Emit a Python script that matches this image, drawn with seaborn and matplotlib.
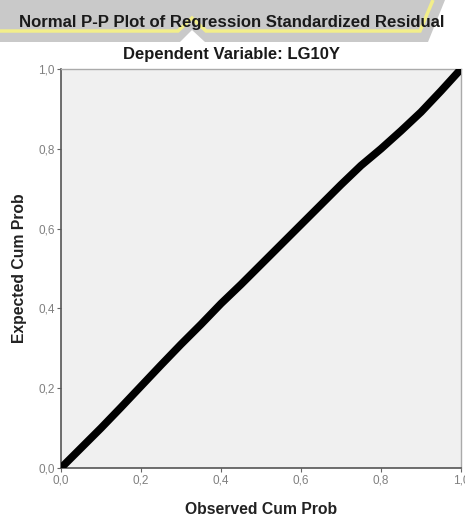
import numpy as np
import pandas as pd
import seaborn as sns
import matplotlib.pyplot as plt
from matplotlib.patches import Polygon

# P-P plot points
observed = [0.00, 0.05, 0.10, 0.15, 0.20, 0.25, 0.30, 0.35, 0.40, 0.45, 0.50,
            0.55, 0.60, 0.65, 0.70, 0.75, 0.80, 0.85, 0.90, 0.95, 1.00]
expected = [0.00, 0.05, 0.10, 0.152, 0.205, 0.258, 0.31, 0.36, 0.412, 0.46, 0.51,
            0.56, 0.61, 0.66, 0.71, 0.758, 0.80, 0.845, 0.892, 0.945, 1.00]
ticks = [0.0, 0.2, 0.4, 0.6, 0.8, 1.0]
tick_labels = ["0,0", "0,2", "0,4", "0,6", "0,8", "1,0"]

data = pd.DataFrame({"Observed": observed, "Expected": expected})

sns.set_style("white")
plt.rcParams["font.family"] = ["Liberation Sans", "DejaVu Sans"]

fig = plt.figure(figsize=(4.65, 5.16), dpi=100)

# watermark band behind the titles
W, H = 465.0, 516.0
def px(pts):
    return [(x / W, 1 - y / H) for x, y in pts]
band = Polygon(px([(0, 0), (445, 0), (428, 42), (205, 42), (192, 30), (180, 42), (0, 42)]),
               closed=True, transform=fig.transFigure, facecolor="#c9c9c9",
               edgecolor="none", zorder=0)
fig.patches.append(band)
edge = Polygon(px([(0, 31), (178, 31), (192, 18), (206, 31), (420, 31), (433, 0)]),
               closed=False, transform=fig.transFigure, facecolor="none",
               edgecolor="#f2ee8a", lw=2.5, zorder=0)
fig.patches.append(edge)

ax = fig.add_axes([61 / W, 48 / H, 400 / W, 399 / H])
ax.set_facecolor("#f0f0f0")

sns.lineplot(data=data, x="Observed", y="Expected", color="black", lw=5.5,
             solid_joinstyle="round", solid_capstyle="round", ax=ax, zorder=3)

ax.set_xlim(0, 1)
ax.set_ylim(0, 1)
ax.set_xticks(ticks)
ax.set_xticklabels(tick_labels)
ax.set_yticks(ticks)
ax.set_yticklabels(tick_labels)
ax.tick_params(axis="both", direction="out", length=3, width=0.8, color="#666666",
               labelsize=8.5, labelcolor="#808080", pad=1.5)
ax.tick_params(axis="both", which="both", bottom=True, left=True)

for side in ["left", "bottom"]:
    ax.spines[side].set_color("#555555")
    ax.spines[side].set_linewidth(1.2)
for side in ["top", "right"]:
    ax.spines[side].set_color("#aaaaaa")
    ax.spines[side].set_linewidth(1.0)

ax.set_xlabel("Observed Cum Prob", fontsize=11.3, fontweight="bold", color="#222222", labelpad=11)
ax.set_ylabel("Expected Cum Prob", fontsize=11.3, fontweight="bold", color="#222222", labelpad=8)

fig.text(232 / W, 1 - 22 / H, "Normal P-P Plot of Regression Standardized Residual",
         ha="center", va="center", fontsize=12.1, fontweight="bold", color="#1a1a1a")
fig.text(231 / W, 1 - 55 / H, "Dependent Variable: LG10Y",
         ha="center", va="center", fontsize=12, fontweight="bold", color="#1a1a1a")

fig.savefig("out.png", dpi=100)
